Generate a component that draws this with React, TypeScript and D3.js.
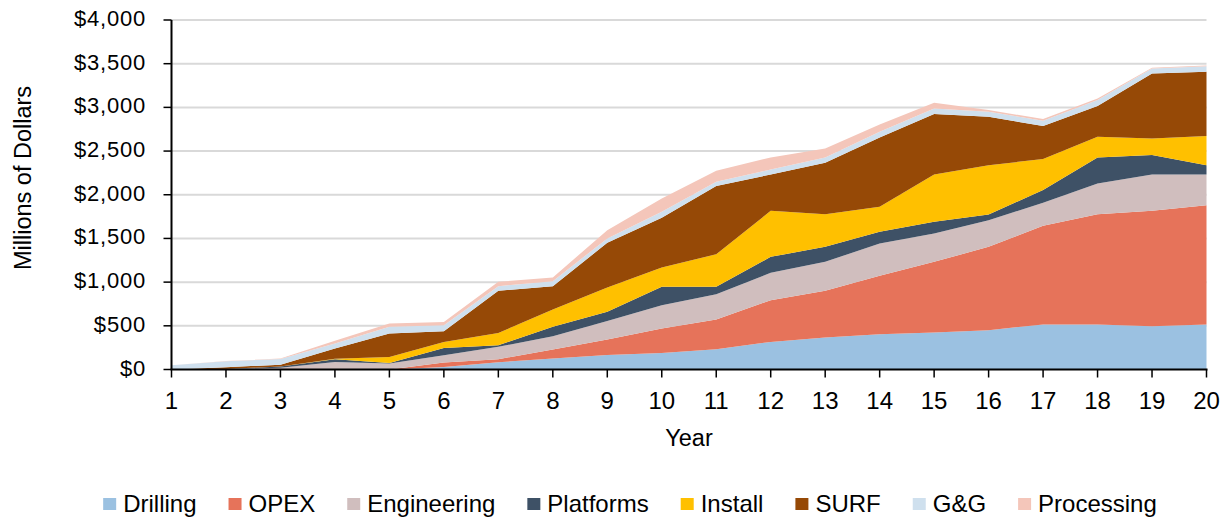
import React, { useEffect, useRef } from "react";
import * as d3 from "d3";

const years = [1, 2, 3, 4, 5, 6, 7, 8, 9, 10, 11, 12, 13, 14, 15, 16, 17, 18, 19, 20];
const seriesNames = ["Drilling", "OPEX", "Engineering", "Platforms", "Install", "SURF", "G&G", "Processing"];
const seriesColors = ["#9BC1E1", "#E6735A", "#D0BEBE", "#3E5166", "#FFC000", "#964906", "#CFE0EE", "#F4C6BA"];
const drilling = [0, 0, 0, 0, 0, 30, 84, 126, 167, 190, 232, 316, 366, 404, 424, 450, 515, 515, 496, 515];
const opex = [0, 0, 0, 0, 0, 50, 34, 103, 176, 279, 340, 477, 534, 668, 808, 954, 1130, 1263, 1320, 1366];
const engineering = [0, 5, 20, 87, 70, 84, 141, 152, 213, 267, 290, 313, 332, 371, 325, 305, 263, 352, 416, 351];
const platforms = [0, 0, 15, 31, 5, 83, 19, 107, 104, 210, 84, 183, 172, 133, 133, 66, 145, 297, 222, 107];
const install = [0, 0, 0, 5, 69, 69, 141, 199, 279, 222, 374, 527, 374, 286, 542, 564, 355, 236, 191, 332];
const surf = [0, 20, 20, 117, 268, 122, 481, 267, 511, 568, 779, 416, 588, 794, 691, 554, 378, 352, 744, 736];
const gg = [50, 70, 65, 58, 76, 69, 54, 57, 50, 69, 49, 58, 61, 65, 65, 57, 61, 68, 57, 65];
const processing = [0, 2, 6, 30, 39, 38, 49, 42, 95, 153, 126, 137, 103, 84, 65, 19, 19, 20, 7, 8];
const yTicks = [0, 500, 1000, 1500, 2000, 2500, 3000, 3500, 4000];

const W = 1229;
const H = 521;
const FONT = "'Liberation Sans', Arial, sans-serif";

export default function App() {
  const ref = useRef<SVGSVGElement | null>(null);

  useEffect(() => {
    const svg = d3.select(ref.current);
    svg.selectAll("*").remove();

    const x = d3.scaleLinear().domain([1, 20]).range([171.5, 1206.5]);
    const y = d3.scaleLinear().domain([0, 4000]).range([369.5, 20]);

    const values = [drilling, opex, engineering, platforms, install, surf, gg, processing];
    const table = years.map((yr, i) => {
      const row: any = { year: yr };
      seriesNames.forEach((n, k) => (row[n] = values[k][i]));
      return row;
    });
    const stack = d3.stack().keys(seriesNames)(table as any);

    // gridlines
    svg
      .append("g")
      .selectAll("line")
      .data(yTicks.filter((t) => t > 0))
      .join("line")
      .attr("x1", x(1))
      .attr("x2", x(20))
      .attr("y1", (d) => y(d))
      .attr("y2", (d) => y(d))
      .attr("stroke", "#D9D9D9")
      .attr("stroke-width", 2);

    const area = d3
      .area<any>()
      .x((d) => x(d.data.year))
      .y0((d) => y(d[0]))
      .y1((d) => y(d[1]));

    svg
      .append("g")
      .selectAll("path")
      .data(stack)
      .join("path")
      .attr("d", (d: any) => area(d))
      .attr("fill", (_d, i) => seriesColors[i]);

    // axes
    const axisG = svg.append("g");
    axisG
      .append("line")
      .attr("x1", x(1))
      .attr("x2", x(1))
      .attr("y1", y(4000))
      .attr("y2", y(0))
      .attr("stroke", "#000")
      .attr("stroke-width", 2);
    axisG
      .append("line")
      .attr("x1", x(1) - 1)
      .attr("x2", x(20) + 1)
      .attr("y1", y(0))
      .attr("y2", y(0))
      .attr("stroke", "#000")
      .attr("stroke-width", 2);

    axisG
      .selectAll("line.yt")
      .data(yTicks)
      .join("line")
      .attr("class", "yt")
      .attr("x1", x(1) - 8)
      .attr("x2", x(1))
      .attr("y1", (d) => y(d))
      .attr("y2", (d) => y(d))
      .attr("stroke", "#000")
      .attr("stroke-width", 1.5);

    axisG
      .selectAll("line.xt")
      .data(years)
      .join("line")
      .attr("class", "xt")
      .attr("x1", (d) => x(d))
      .attr("x2", (d) => x(d))
      .attr("y1", y(0))
      .attr("y2", y(0) + 8)
      .attr("stroke", "#000")
      .attr("stroke-width", 1.5);

    const fmt = d3.format(",");
    axisG
      .selectAll("text.yl")
      .data(yTicks)
      .join("text")
      .attr("class", "yl")
      .attr("x", 146)
      .attr("y", (d) => y(d) + 6)
      .attr("text-anchor", "end")
      .attr("font-family", FONT)
      .attr("font-size", 22)
      .attr("letter-spacing", 0.8)
      .attr("fill", "#000")
      .text((d) => "$" + fmt(d));

    axisG
      .selectAll("text.xl")
      .data(years)
      .join("text")
      .attr("class", "xl")
      .attr("x", (d) => x(d))
      .attr("y", 409)
      .attr("text-anchor", "middle")
      .attr("font-family", FONT)
      .attr("font-size", 24)
      .attr("fill", "#000")
      .text((d) => String(d));

    svg
      .append("text")
      .attr("x", (x(1) + x(20)) / 2)
      .attr("y", 446)
      .attr("text-anchor", "middle")
      .attr("font-family", FONT)
      .attr("font-size", 23.5)
      .attr("fill", "#000")
      .text("Year");

    svg
      .append("text")
      .attr("transform", "translate(31,178) rotate(-90)")
      .attr("text-anchor", "middle")
      .attr("font-family", FONT)
      .attr("font-size", 23.5)
      .attr("fill", "#000")
      .text("Millions of Dollars");

    // legend
    const leg = svg.append("g");
    const items = seriesNames.map((name, i) => {
      const g = leg.append("g");
      g.append("rect").attr("width", 13).attr("height", 12).attr("y", 498).attr("fill", seriesColors[i]);
      const t = g
        .append("text")
        .attr("y", 511.5)
        .attr("font-family", FONT)
        .attr("font-size", 24)
        .attr("fill", "#000")
        .text(name);
      const tw = (t.node() as SVGTextElement).getComputedTextLength();
      return { g, t, w: 20 + tw };
    });
    const gap = 32;
    const total = d3.sum(items, (d) => d.w) + gap * (items.length - 1);
    let cx = 630 - total / 2;
    items.forEach((it) => {
      it.g.select("rect").attr("x", cx);
      it.t.attr("x", cx + 20);
      cx += it.w + gap;
    });
  }, []);

  return (
    <svg ref={ref} width={W} height={H} style={{ display: "block", position: "absolute", left: 0, top: 0 }} />
  );
}
